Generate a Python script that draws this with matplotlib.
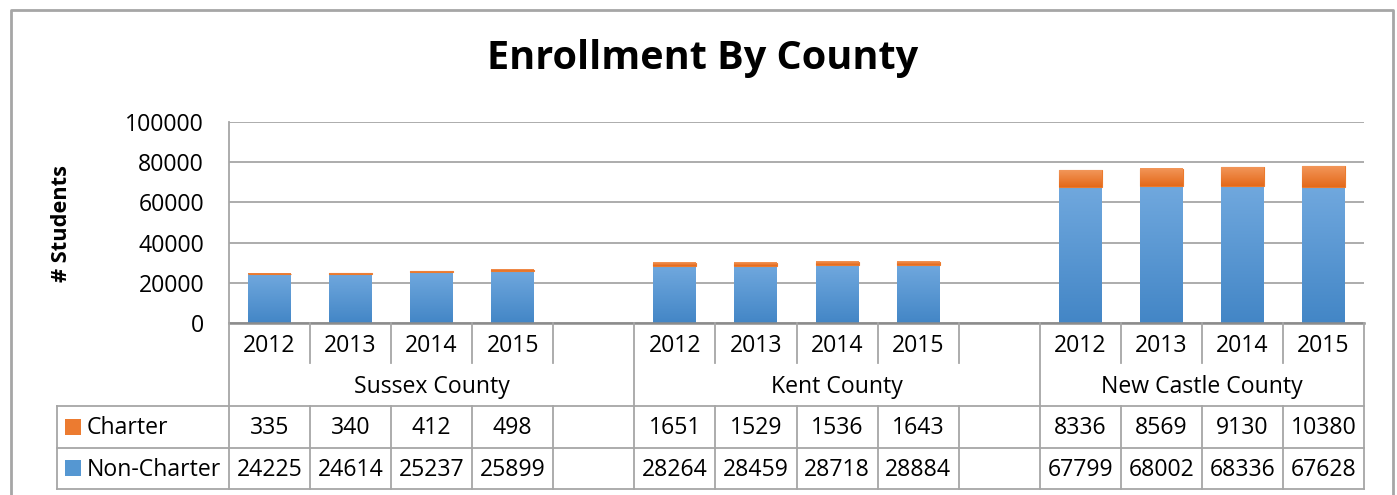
import matplotlib
matplotlib.use('Agg')
import matplotlib.pyplot as plt
import numpy as np
from matplotlib.lines import Line2D
from matplotlib.patches import Rectangle
from matplotlib.colors import to_rgb

plt.rcParams['font.family'] = ['Open Sans', 'DejaVu Sans']

# ---------------- data ----------------
counties = ["Sussex County", "Kent County", "New Castle County"]
years = ["2012", "2013", "2014", "2015"]
charter = [335, 340, 412, 498, 1651, 1529, 1536, 1643, 8336, 8569, 9130, 10380]
non_charter = [24225, 24614, 25237, 25899, 28264, 28459, 28718, 28884,
               67799, 68002, 68336, 67628]
series_names = ["Charter", "Non-Charter"]
y_ticks = [0, 20000, 40000, 60000, 80000, 100000]
title = "Enrollment By County"
y_label = "# Students"

# ---------------- layout ----------------
W, H = 1397, 495
fig = plt.figure(figsize=(W / 100, H / 100), dpi=100)
fig.patch.set_facecolor('white')

def fx(px):
    return px / W

def fy(py):
    return 1 - py / H

slots_per_group = 5
n_slots = 14
ax = fig.add_axes([fx(229), fy(323), fx(1364) - fx(229), fy(122) - fy(323)])
ax.set_xlim(0, n_slots)
ax.set_ylim(0, 100000)

pos = [g * slots_per_group + j + 0.5 for g in range(len(counties)) for j in range(len(years))]

blue_top, blue_bot = '#70a8de', '#4386c6'
orange_top, orange_bot = '#f29659', '#e4691a'

bw = 0.53
b1 = ax.bar(pos, non_charter, width=bw, color='#5b9bd5', zorder=2, linewidth=0)
b2 = ax.bar(pos, charter, bottom=non_charter, width=bw, color='#ec7a2c', zorder=3,
            edgecolor='#ec7a2c', linewidth=0.8)

def grad_fill(bars, top, bot, z):
    t = np.linspace(0, 1, 128)[:, None, None]
    c0 = np.array(to_rgb(bot))[None, None, :]
    c1 = np.array(to_rgb(top))[None, None, :]
    img = c0 * (1 - t) + c1 * t
    for p in bars:
        x0, y0 = p.get_xy()
        w, h = p.get_width(), p.get_height()
        ax.imshow(img, extent=[x0, x0 + w, y0, y0 + h], origin='lower',
                  aspect='auto', zorder=z, interpolation='bilinear')

grad_fill(b1, blue_top, blue_bot, 2.5)
grad_fill(b2, orange_top, orange_bot, 3.5)

ax.set_xlim(0, n_slots)
ax.set_ylim(0, 100000)
ax.set_yticks(y_ticks)
ax.set_xticks([])
ax.yaxis.grid(True, color='#a6a6a6', linewidth=1.3)
ax.set_axisbelow(True)
for s in ['top', 'right']:
    ax.spines[s].set_visible(False)
ax.spines['left'].set_color('#a6a6a6')
ax.spines['left'].set_linewidth(1.3)
ax.spines['bottom'].set_color('#8c8c8c')
ax.spines['bottom'].set_linewidth(1.8)

renderer = fig.canvas.get_renderer()

def fitted_size(s, target_w, weight='normal', base=20):
    t = fig.text(0, 0, s, fontsize=base, fontweight=weight)
    bb = t.get_window_extent(renderer)
    size = base * target_w / bb.width
    t.remove()
    return size

num_fs = fitted_size("100000", 79)
ax.tick_params(axis='y', length=0, pad=18, labelsize=num_fs, labelcolor='black')

# title
tfs = fitted_size(title, 431, weight='bold')
fig.text(fx(702.5), fy(69), title, ha='center', va='baseline', fontsize=tfs, fontweight='bold')

# y label
ylab_fs = fitted_size(y_label, 117, weight='bold')
fig.text(fx(62), fy(223.5), y_label, rotation=90, ha='center', va='center',
         fontsize=ylab_fs, fontweight='bold')

# ---------------- data table ----------------
def xs(k):
    return ax.transData.transform((k, 0))[0] / W

line_c = '#a6a6a6'
lw = 1.3

def vline(xf, py0, py1):
    fig.add_artist(Line2D([xf, xf], [fy(py0), fy(py1)], color=line_c, lw=lw))

def hline(xf0, xf1, py):
    fig.add_artist(Line2D([xf0, xf1], [fy(py), fy(py)], color=line_c, lw=lw))

group_bounds = [0, 5, 10, 14]
for k in range(0, n_slots + 1):
    if k in group_bounds:
        vline(xs(k), 323, 489)
    else:
        vline(xs(k), 323, 363)
        vline(xs(k), 406, 489)

hline(fx(57), xs(n_slots), 406)
hline(fx(57), xs(n_slots), 448)
hline(fx(57), xs(n_slots), 489)
vline(fx(57), 406, 489)

# outer chart border
fig.add_artist(Line2D([fx(11), fx(11), fx(1393), fx(1393)],
                      [fy(500), fy(10), fy(10), fy(500)], color='#a6a6a6', lw=2))

for i, p in enumerate(pos):
    fig.text(xs(p), fy(352), years[i % 4], ha='center', va='baseline', fontsize=num_fs)
    fig.text(xs(p), fy(434), str(charter[i]), ha='center', va='baseline', fontsize=num_fs)
    fig.text(xs(p), fy(476), str(non_charter[i]), ha='center', va='baseline', fontsize=num_fs)

for g, name in enumerate(counties):
    xc = (xs(group_bounds[g]) + xs(group_bounds[g + 1])) / 2
    fig.text(xc, fy(393), name, ha='center', va='baseline', fontsize=num_fs)

# legend keys in table
fig.add_artist(Rectangle((fx(65), fy(435)), fx(16), 16 / H, facecolor='#ec7b30',
                         edgecolor='none', transform=fig.transFigure))
fig.add_artist(Rectangle((fx(65), fy(476)), fx(16), 16 / H, facecolor='#5597d2',
                         edgecolor='none', transform=fig.transFigure))
fig.text(fx(87), fy(434), series_names[0], ha='left', va='baseline', fontsize=num_fs)
fig.text(fx(87), fy(476), series_names[1], ha='left', va='baseline', fontsize=num_fs)

fig.savefig('out.png', dpi=100, facecolor='white')
